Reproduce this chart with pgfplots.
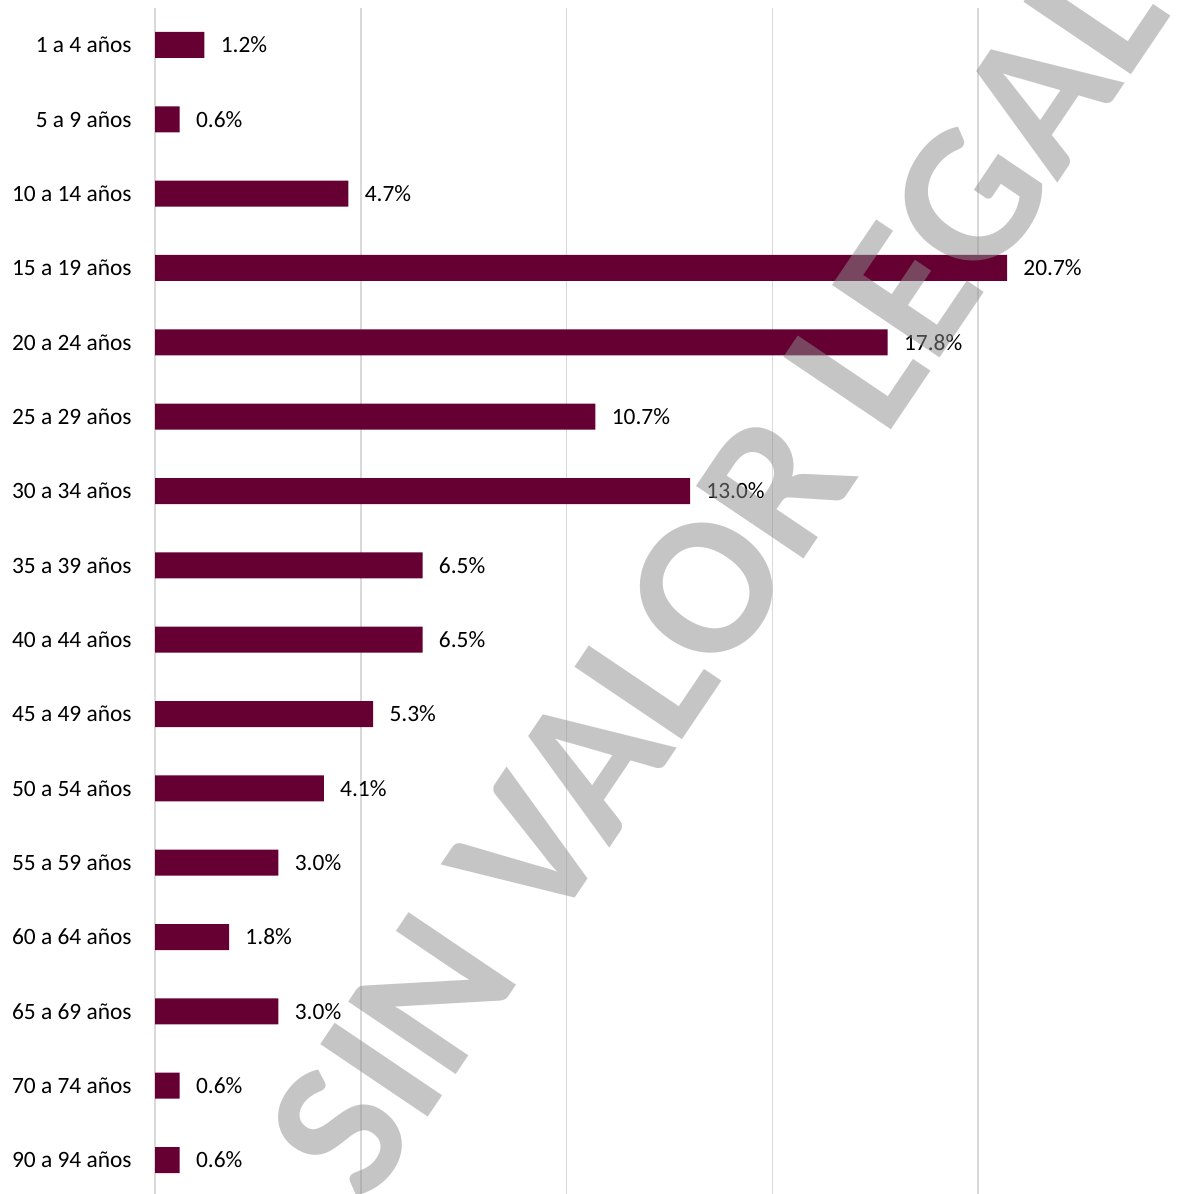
\documentclass[border=0pt]{standalone}
\usepackage{pgfplots}
\pgfplotsset{compat=1.18}
\usepackage{fontspec}
\setmainfont{Carlito}
\definecolor{barcol}{HTML}{660033}
\definecolor{gridcol}{HTML}{D9D9D9}

\pgfplotstableread{
y x lab
0 1.2 1.2\%
1 0.6 0.6\%
2 4.7 4.7\%
3 20.7 20.7\%
4 17.8 17.8\%
5 10.7 10.7\%
6 13.0 13.0\%
7 6.5 6.5\%
8 6.5 6.5\%
9 5.3 5.3\%
10 4.1 4.1\%
11 3.0 3.0\%
12 1.8 1.8\%
13 3.0 3.0\%
14 0.6 0.6\%
15 0.6 0.6\%
}\edades

\begin{document}
\begin{tikzpicture}
\useasboundingbox (0,0) rectangle (588.5pt,-597pt);
\clip (0,0) rectangle (588.5pt,-597pt);
\begin{axis}[
  at={(77.5pt,-3.9pt)}, anchor=north west,
  scale only axis,
  width=514.5pt, height=594.7pt,
  xbar, bar width=13pt,
  xmin=0, xmax=25,
  ymin=-0.5, ymax=15.5,
  y dir=reverse,
  axis line style={draw=none},
  tick style={draw=none},
  xtick={5,10,15,20},
  xmajorgrids,
  grid style={gridcol, line width=0.8pt},
  xticklabels={},
  ytick={0,...,15},
  yticklabels={1 a 4 años,5 a 9 años,10 a 14 años,15 a 19 años,20 a 24 años,25 a 29 años,30 a 34 años,35 a 39 años,40 a 44 años,45 a 49 años,50 a 54 años,55 a 59 años,60 a 64 años,65 a 69 años,70 a 74 años,90 a 94 años},
  yticklabel style={anchor=east, inner sep=0pt, xshift=-11.5pt, font=\fontsize{11.7}{14}\selectfont},
  major tick length=0pt,
  nodes near coords,
  point meta=explicit symbolic,
  every node near coord/.append style={anchor=west, inner sep=0pt, xshift=8pt, font=\fontsize{11.7}{14}\selectfont, text=black},
  clip=false,
]
\draw[gridcol, line width=0.8pt] (axis cs:0,-0.5) -- (axis cs:0,15.5);
\addplot[fill=barcol, draw=none] table[x=x, y=y, meta=lab] {\edades};
\end{axis}
% watermark drawn over the chart
\node[rotate=56, text=black!45, opacity=0.5, font=\fontsize{100}{110}\selectfont\bfseries, inner sep=0pt]
  at (358pt,-287pt) {SIN VALOR LEGAL};
\end{tikzpicture}
\end{document}
